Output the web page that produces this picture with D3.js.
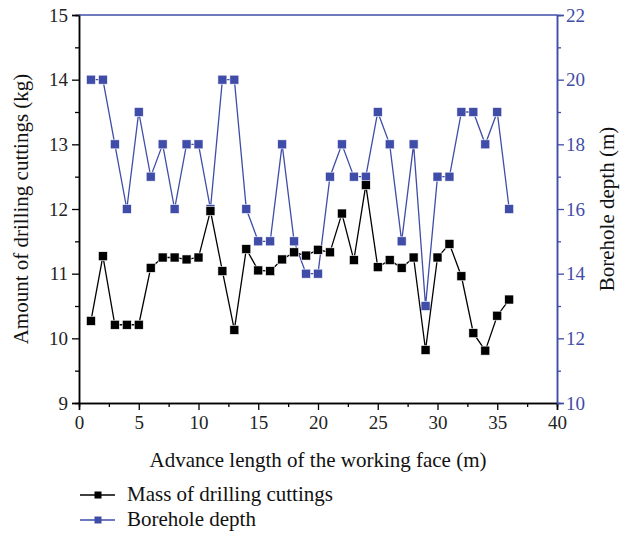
<!DOCTYPE html>
<html>
<head>
<meta charset="utf-8">
<script src="https://cdn.jsdelivr.net/npm/d3@7"></script>
<style>
  body { margin: 0; background: #fff; }
</style>
</head>
<body>
<svg id="chart" width="637" height="536"></svg>
<script>
var advance = [1, 2, 3, 4, 5, 6, 7, 8, 9, 10, 11, 12, 13, 14, 15, 16, 17, 18,
    19, 20, 21, 22, 23, 24, 25, 26, 27, 28, 29, 30, 31, 32, 33, 34, 35, 36];
var mass = [10.27, 11.27, 10.21, 10.21, 10.21, 11.09, 11.25, 11.25, 11.22, 11.25, 11.97, 11.04,
    10.13, 11.38, 11.05, 11.04, 11.22, 11.33, 11.28, 11.37, 11.33, 11.93, 11.21, 12.37,
    11.10, 11.21, 11.09, 11.25, 9.82, 11.25, 11.46, 10.96, 10.08, 9.81, 10.35, 10.60];
var depth = [20, 20, 18, 16, 19, 17, 18, 16, 18, 18, 16, 20, 20, 16, 15, 15, 18, 15,
    14, 14, 17, 18, 17, 17, 19, 18, 15, 18, 13, 17, 17, 19, 19, 18, 19, 16];
var xTicks = [0, 5, 10, 15, 20, 25, 30, 35, 40];
var leftTicks = [9, 10, 11, 12, 13, 14, 15];
var rightTicks = [10, 12, 14, 16, 18, 20, 22];

var blue = "#3f4ca8";
var serif = "'Liberation Serif', 'DejaVu Serif', 'Times New Roman', serif";

var svg = d3.select("#chart"),
    margin = {top: 15, right: 80, bottom: 133, left: 79},
    width = +svg.attr("width") - margin.left - margin.right,
    height = +svg.attr("height") - margin.top - margin.bottom,
    g = svg.append("g").attr("transform", "translate(" + margin.left + "," + margin.top + ")");

var x = d3.scaleLinear().domain([0, 40]).range([0, width]);
var yL = d3.scaleLinear().domain([9, 15]).range([height, 0]);
var yR = d3.scaleLinear().domain([10, 22]).range([height, 0]);

// minor ticks
g.append("g")
    .attr("transform", "translate(0," + height + ")")
    .call(d3.axisBottom(x).tickValues(d3.range(2.5, 40, 5)).tickSize(4).tickFormat(""));
g.append("g")
    .call(d3.axisLeft(yL).tickValues(d3.range(9.5, 15, 1)).tickSize(4).tickFormat(""));
g.append("g")
    .attr("class", "right")
    .attr("transform", "translate(" + width + ",0)")
    .call(d3.axisRight(yR).tickValues(d3.range(11, 22, 2)).tickSize(4).tickFormat(""));

// major axes
g.append("g")
    .attr("transform", "translate(0," + height + ")")
    .call(d3.axisBottom(x).tickValues(xTicks).tickSize(7).tickPadding(6).tickFormat(d3.format("d")));
g.append("g")
    .call(d3.axisLeft(yL).tickValues(leftTicks).tickSize(7).tickPadding(4).tickFormat(d3.format("d")));
g.append("g")
    .attr("class", "right")
    .attr("transform", "translate(" + width + ",0)")
    .call(d3.axisRight(yR).tickValues(rightTicks).tickSize(7).tickPadding(2).tickFormat(d3.format("d")));

g.selectAll(".domain").attr("stroke-width", 1.5);
g.selectAll(".tick line").attr("stroke-width", 1.3);
g.selectAll(".tick text")
    .attr("font-family", serif)
    .attr("font-size", 19)
    .attr("fill", "#222");
g.selectAll(".right .domain, .right .tick line").attr("stroke", blue);
g.selectAll(".right .tick text").attr("fill", blue);

// top frame
g.append("line")
    .attr("x1", 0).attr("x2", width)
    .attr("y1", 0).attr("y2", 0)
    .attr("stroke", blue)
    .attr("stroke-width", 1.5);

// series
var lineB = d3.line()
    .x(function (d, i) { return x(advance[i]); })
    .y(function (d) { return yR(d); });
var lineK = d3.line()
    .x(function (d, i) { return x(advance[i]); })
    .y(function (d) { return yL(d); });

g.append("path")
    .datum(depth)
    .attr("fill", "none")
    .attr("stroke", blue)
    .attr("stroke-width", 1.3)
    .attr("d", lineB);

g.selectAll(".ptB")
    .data(depth)
    .enter().append("rect")
    .attr("x", function (d, i) { return x(advance[i]) - 4.5; })
    .attr("y", function (d) { return yR(d) - 4.5; })
    .attr("width", 9).attr("height", 9)
    .attr("fill", blue)
    .attr("stroke", "#fff")
    .attr("stroke-width", 0.6);

g.append("path")
    .datum(mass)
    .attr("fill", "none")
    .attr("stroke", "#000")
    .attr("stroke-width", 1.3)
    .attr("d", lineK);

g.selectAll(".ptK")
    .data(mass)
    .enter().append("rect")
    .attr("x", function (d, i) { return x(advance[i]) - 4.5; })
    .attr("y", function (d) { return yL(d) - 4.5; })
    .attr("width", 9).attr("height", 9)
    .attr("fill", "#000")
    .attr("stroke", "#fff")
    .attr("stroke-width", 0.6);

// axis titles
svg.append("text")
    .attr("x", margin.left + width / 2)
    .attr("y", 467)
    .attr("text-anchor", "middle")
    .attr("font-family", serif)
    .attr("font-size", 21)
    .attr("fill", "#111")
    .text("Advance length of the working face (m)");

svg.append("text")
    .attr("transform", "translate(28," + (margin.top + height / 2) + ") rotate(-90)")
    .attr("text-anchor", "middle")
    .attr("font-family", serif)
    .attr("font-size", 21)
    .attr("fill", "#111")
    .text("Amount of drilling cuttings (kg)");

svg.append("text")
    .attr("transform", "translate(614," + (margin.top + height / 2) + ") rotate(-90)")
    .attr("text-anchor", "middle")
    .attr("font-family", serif)
    .attr("font-size", 21)
    .attr("fill", "#111")
    .text("Borehole depth (m)");

// legend
var legend = [{name: "Mass of drilling cuttings", color: "#000"},
              {name: "Borehole depth", color: blue}];
var lg = svg.selectAll(".legend")
    .data(legend)
    .enter().append("g")
    .attr("transform", function (d, i) { return "translate(80," + (495 + i * 25) + ")"; });
lg.append("line")
    .attr("x1", 0).attr("x2", 35)
    .attr("stroke", function (d) { return d.color; })
    .attr("stroke-width", 1.3);
lg.append("rect")
    .attr("x", 14.5).attr("y", -3.5)
    .attr("width", 7).attr("height", 7)
    .attr("fill", function (d) { return d.color; });
lg.append("text")
    .attr("x", 47).attr("y", 6)
    .attr("font-family", serif)
    .attr("font-size", 21)
    .attr("fill", "#111")
    .text(function (d) { return d.name; });
</script>
</body>
</html>
